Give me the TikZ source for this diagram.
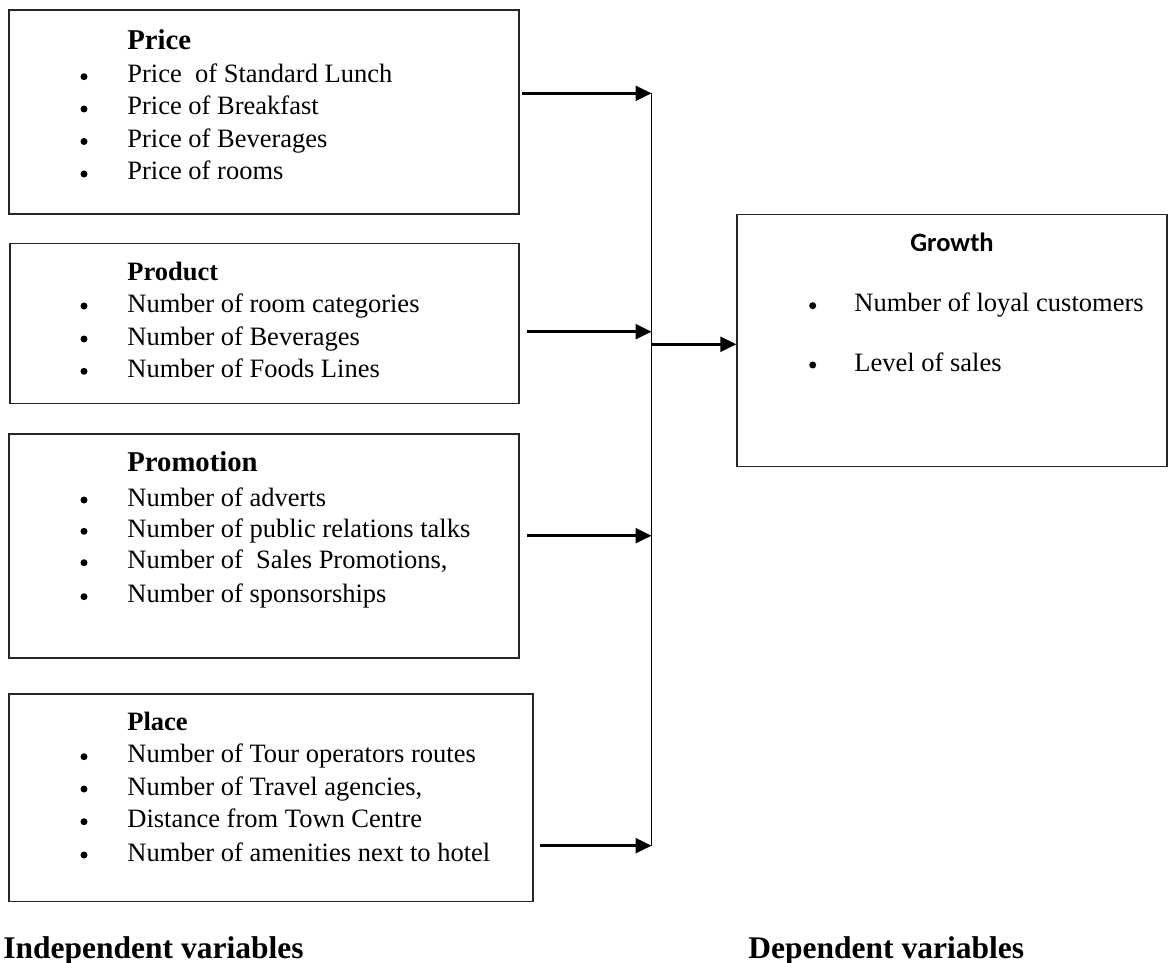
\documentclass[tikz,border=0pt]{standalone}
\usepackage{fontspec}
\setmainfont{Liberation Serif}
\newfontfamily\growthfont{Carlito}
\usetikzlibrary{arrows.meta,fit}
\begin{document}
\begin{tikzpicture}[x=0.5pt,y=-0.5pt,
  box/.style={draw=black!85,line width=0.7pt,inner sep=0pt},
  txt/.style={anchor=base west,inner sep=0pt,font=\fontsize{13.25}{15}\selectfont},
  headA/.style={anchor=base west,inner sep=0pt,font=\fontsize{14.35}{16}\selectfont\bfseries},
  headB/.style={anchor=base west,inner sep=0pt,font=\fontsize{13.25}{15}\selectfont\bfseries},
  ghead/.style={anchor=base,inner sep=0pt,font=\fontsize{13.25}{15}\selectfont\growthfont\bfseries},
  foot/.style={anchor=base west,inner sep=0pt,font=\fontsize{15.75}{18}\selectfont\bfseries},
  dot/.style={circle,fill=black,inner sep=0pt,minimum size=3.5pt},
  arr/.style={line width=1.3pt,-{Triangle[length=8pt,width=7.5pt]}},
  bus/.style={line width=0.75pt}]
\useasboundingbox (0,0) rectangle (1168,963);

% ---- boxes ----
\node[box,fit={(9,10)(519,214)}] (price) {};
\node[box,fit={(10,243.3)(519,403.3)}] (product) {};
\node[box,fit={(9,434)(519,658)}] (promo) {};
\node[box,fit={(9,694)(533,901.7)}] (place) {};
\node[box,fit={(737,214.3)(1167,466.7)}] (growth) {};

% ---- Price ----
\node[headA] (priceh) at (127,50) {Price};
\node[dot] (pd1) at (84,76.7) {};
\node[txt] (pt1) at (127,82.7) {Price\ \ of Standard Lunch};
\node[dot] (pd2) at (84,109) {};
\node[txt] (pt2) at (127,115) {Price of Breakfast};
\node[dot] (pd3) at (84,141.5) {};
\node[txt] (pt3) at (127,147.5) {Price of Beverages};
\node[dot] (pd4) at (84,174) {};
\node[txt] (pt4) at (127,180) {Price of rooms};

% ---- Product ----
\node[headB] (producth) at (127,280) {Product};
\node[dot] (rd1) at (84,306) {};
\node[txt] (rt1) at (127,312) {Number of room categories};
\node[dot] (rd2) at (84,339) {};
\node[txt] (rt2) at (127,345) {Number of Beverages};
\node[dot] (rd3) at (84,371.3) {};
\node[txt] (rt3) at (127,377.3) {Number of Foods Lines};

% ---- Promotion ----
\node[headA] (promoh) at (127,471.7) {Promotion};
\node[dot] (md1) at (84,500) {};
\node[txt] (mt1) at (127,506) {Number of adverts};
\node[dot] (md2) at (84,531.3) {};
\node[txt] (mt2) at (127,537.3) {Number of public relations talks};
\node[dot] (md3) at (84,562.7) {};
\node[txt] (mt3) at (127,568.7) {Number of\ \ Sales Promotions,};
\node[dot] (md4) at (84,596.7) {};
\node[txt] (mt4) at (127,602.7) {Number of sponsorships};

% ---- Place ----
\node[headB] (placeh) at (127,730) {Place};
\node[dot] (ld1) at (84,756.7) {};
\node[txt] (lt1) at (127,762.7) {Number of Tour operators routes};
\node[dot] (ld2) at (84,789) {};
\node[txt] (lt2) at (127,795) {Number of Travel agencies,};
\node[dot] (ld3) at (84,821.7) {};
\node[txt] (lt3) at (127,827.7) {Distance from Town Centre};
\node[dot] (ld4) at (84,855) {};
\node[txt] (lt4) at (127,861) {Number of amenities next to hotel};

% ---- Growth ----
\node[ghead] (growthh) at (952,251) {Growth};
\node[dot] (gd1) at (812.7,305.7) {};
\node[txt] (gt1) at (854,311.7) {Number of loyal customers};
\node[dot] (gd2) at (812.7,365) {};
\node[txt] (gt2) at (854,371) {Level of sales};

% ---- footer labels ----
\node[foot] (indep) at (3,958) {Independent variables};
\node[foot] (dep) at (748,958) {Dependent variables};

% ---- connectors ----
\coordinate (j1) at (651.5,93.3);
\coordinate (j2) at (651.5,331.7);
\coordinate (j3) at (651.5,535.7);
\coordinate (j4) at (651.5,845.7);
\coordinate (jo) at (651.5,344.3);
\draw[bus] (j1) -- (j4);
\draw[arr,shorten <=1.35pt] (price.east |- j1) -- (j1);
\draw[arr,shorten <=3.85pt] (product.east |- j2) -- (j2);
\draw[arr,shorten <=3.85pt] (promo.east |- j3) -- (j3);
\draw[arr,shorten <=3pt] (place.east |- j4) -- (j4);
\draw[arr] (jo) -- (growth.west |- jo);
\end{tikzpicture}
\end{document}
